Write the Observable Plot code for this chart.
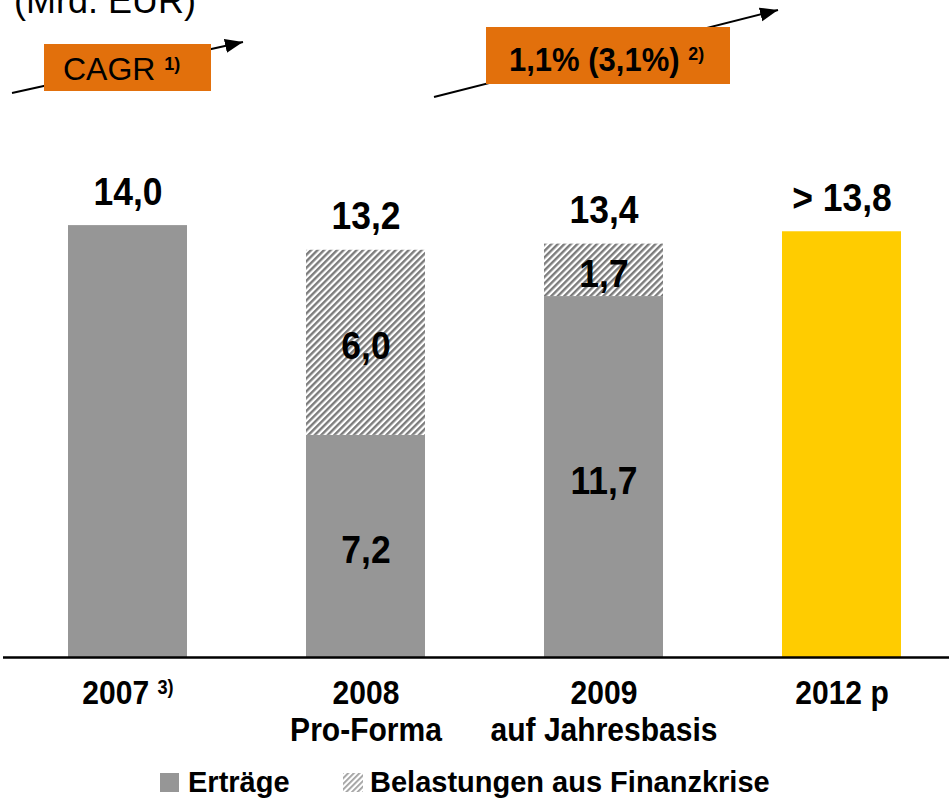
<!DOCTYPE html>
<html><head><meta charset="utf-8">
<script src="https://cdn.jsdelivr.net/npm/d3@7"></script>
<script src="https://cdn.jsdelivr.net/npm/@observablehq/plot@0.6"></script>
<style>
body{margin:0;background:#fff;}
#wrap{position:relative;width:949px;height:798px;overflow:hidden;font-family:"Liberation Sans",Arial,sans-serif;}
#wrap > svg{position:absolute;left:0;top:0;}
</style></head><body>
<svg width="0" height="0" style="position:absolute;left:0;top:0">
  <defs>
    <pattern id="hatch" patternUnits="userSpaceOnUse" width="4.6" height="4.6" patternTransform="rotate(45)">
      <rect width="4.6" height="4.6" fill="#ffffff"/>
      <rect width="2.4" height="4.6" fill="#7c7c7c"/>
    </pattern>
    <pattern id="hatchLegend" patternUnits="userSpaceOnUse" width="4" height="4" patternTransform="rotate(45)">
      <rect width="4" height="4" fill="#ffffff"/>
      <rect width="1.8" height="4" fill="#a0a0a0"/>
    </pattern>
    <marker id="ah" markerUnits="userSpaceOnUse" markerWidth="20" markerHeight="16" refX="18" refY="7" orient="auto">
      <path d="M0,0 L18,7 L0,14 Z" fill="#000"/>
    </marker>
  </defs>
</svg>
<div id="wrap"></div>
<script>
// ---- data ----
const categories = ["2007", "2008", "2009", "2012"];
const tickLabels = ["2007 ^3)", "2008\nPro-Forma", "2009\nauf Jahresbasis", "2012 p"];
const ertraege = [14.0, 7.2, 11.7, 0];
const belastungen = [0, 6.0, 1.7, 0];
const plan = [0, 0, 0, 13.8];
const totals = [14.0, 13.2, 13.4, 13.8];
const totalLabels = ["14,0", "13,2", "13,4", "> 13,8"];
const seriesNames = ["Erträge", "Belastungen aus Finanzkrise", "Plan"];
const seriesColors = ["#969696", "url(#hatch)", "#FFCC00"];

const rows = categories.flatMap((c, i) => [
  {cat: c, type: seriesNames[0], value: ertraege[i]},
  {cat: c, type: seriesNames[1], value: belastungen[i]},
  {cat: c, type: seriesNames[2], value: plan[i]}
]).filter(d => d.value > 0);
const innerRows = rows.filter(d => d.type !== "Plan" && (d.cat === "2008" || d.cat === "2009"));
const fmt = v => v.toFixed(1).replace(".", ",");

const chart = Plot.plot({
  width: 949, height: 798,
  marginTop: 0, marginBottom: 141, marginLeft: 3, marginRight: 0,
  x: {domain: categories, range: [-53, 1021], padding: 0.5, axis: null},
  y: {domain: [0, 20], range: [657, 657 - 20 * 30.85], axis: null},
  color: {domain: seriesNames, range: seriesColors},
  style: {fontFamily: "'Liberation Sans', Arial, sans-serif", background: "transparent", color: "#000"},
  marks: [
    Plot.barY(rows, {x: "cat", y: "value", fill: "type"}),
    Plot.ruleY([0], {stroke: "#000", strokeWidth: 2.5}),
    Plot.text(categories, {x: d => d, y: (d, i) => totals[i], text: (d, i) => totalLabels[i],
      dy: -21, lineAnchor: "bottom", fontSize: 39, fontWeight: "bold", fill: "#000"}),
    Plot.text(innerRows, Plot.stackY({x: "cat", y: "value", text: d => fmt(d.value), dy: 4,
      fontSize: 39, fontWeight: "bold", fill: "#000"})),
    Plot.text(categories, {x: d => d, text: (d, i) => tickLabels[i], frameAnchor: "bottom",
      lineAnchor: "top", dy: 20, fontSize: 33, fontWeight: "bold", lineHeight: 1.12, fill: "#000"})
  ]
});

// superscripts in tick labels
d3.select(chart).selectAll("text, tspan").each(function () {
  for (const node of [...this.childNodes]) {
    if (node.nodeType === 3 && node.nodeValue.includes("^")) {
      const [main, sup] = node.nodeValue.split("^");
      node.nodeValue = main;
      const t = document.createElementNS("http://www.w3.org/2000/svg", "tspan");
      t.setAttribute("dy", "-10");
      t.setAttribute("font-size", "20");
      t.textContent = sup;
      this.appendChild(t);
    }
  }
});
// slightly condensed lettering, as in the reference
d3.select(chart).selectAll("text").each(function () {
  const tr = this.getAttribute("transform");
  if (tr) this.setAttribute("transform", tr + " scale(0.91,1)");
});

const wrap = document.getElementById("wrap");
wrap.appendChild(chart);

// annotations & legend overlay
const ov = d3.create("svg").attr("width", 949).attr("height", 798)
  .style("font-family", "'Liberation Sans', Arial, sans-serif");
ov.append("text").attr("x", 14).attr("y", 13).attr("font-size", 36).text("(Mrd. EUR)");
ov.append("line").attr("x1", 12).attr("y1", 93).attr("x2", 243).attr("y2", 42)
  .attr("stroke", "#000").attr("stroke-width", 2).attr("marker-end", "url(#ah)");
ov.append("line").attr("x1", 434).attr("y1", 97).attr("x2", 778).attr("y2", 10)
  .attr("stroke", "#000").attr("stroke-width", 2).attr("marker-end", "url(#ah)");
ov.append("rect").attr("x", 44).attr("y", 44).attr("width", 167).attr("height", 47).attr("fill", "#E2700C");
ov.append("rect").attr("x", 486).attr("y", 27).attr("width", 244).attr("height", 57).attr("fill", "#E2700C");
const t1 = ov.append("text").attr("x", 63).attr("y", 80).attr("font-size", 32);
t1.append("tspan").text("CAGR ");
t1.append("tspan").attr("font-size", 18).attr("font-weight", "bold").attr("dy", -10).text("1)");
const t2 = ov.append("text").attr("transform", "translate(509,71) scale(0.94,1)")
  .attr("font-size", 33).attr("font-weight", "bold");
t2.append("tspan").text("1,1% (3,1%) ");
t2.append("tspan").attr("font-size", 19).attr("dy", -11).text("2)");
// legend
ov.append("rect").attr("x", 160).attr("y", 773).attr("width", 19).attr("height", 19).attr("fill", seriesColors[0]);
ov.append("text").attr("x", 188).attr("y", 792).attr("font-size", 29).attr("font-weight", "bold").text(seriesNames[0]);
ov.append("rect").attr("x", 343).attr("y", 773).attr("width", 20).attr("height", 19).attr("fill", "url(#hatchLegend)");
ov.append("text").attr("x", 370).attr("y", 792).attr("font-size", 29).attr("font-weight", "bold").text(seriesNames[1]);
wrap.appendChild(ov.node());
</script>
</body></html>
